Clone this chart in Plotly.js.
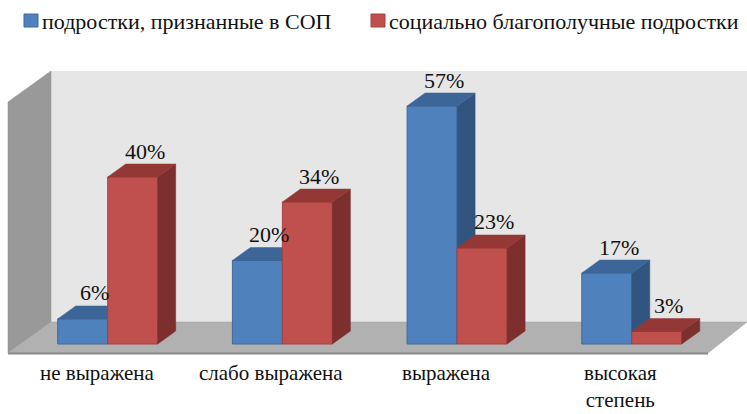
<!DOCTYPE html>
<html>
<head>
<meta charset="utf-8">
<script src="https://cdn.plot.ly/plotly-3.0.1.min.js"></script>
<style>html,body{margin:0;padding:0;background:#fff;}#chart{width:747px;height:414px;}</style>
</head>
<body>
<div id="chart"></div>
<script>
// ---- data ----
const categories = ["не выражена", "слабо выражена", "выражена", "высокая<br>степень"];
const seriesNames = ["подростки, признанные в СОП", "социально благополучные подростки"];
const sopValues = [6, 20, 57, 17];
const wellValues = [40, 34, 23, 3];

// ---- style / geometry constants ----
const FIG_W = 747, FIG_H = 414;
const X0PX = 107.7, XSTEP = 174.7;       // pixel of category 0 group centre, px per category
const Y0PX = 344, YSCALE = 4.175;       // pixel of value 0, px per unit
const W = 50 / XSTEP;                   // bar width (category units)
const DX = 18 / XSTEP, DY = 13 / YSCALE; // 3-D depth offset
const FONT = "'Liberation Serif', 'Times New Roman', serif";
const colors = {
  blue: {front: "#4f81bd", line: "#41699b", top: "#3c6598", side: "#32557f"},
  red:  {front: "#c0504d", line: "#a7423f", top: "#943836", side: "#7c2f2d"}
};
const xRange = [(-X0PX) / XSTEP, (FIG_W - X0PX) / XSTEP];
const yRange = [(Y0PX - FIG_H) / YSCALE, Y0PX / YSCALE];
const px = x => x / FIG_W, py = y => 1 - y / FIG_H;

function faces(vals, off) {
  const sx = [], sy = [], tx = [], ty = [];
  vals.forEach((v, i) => {
    const xl = i + off, xr = xl + W;
    sx.push(xr, xr + DX, xr + DX, xr, xr, null);
    sy.push(0, DY, v + DY, v, 0, null);
    tx.push(xl, xl + DX, xr + DX, xr, xl, null);
    ty.push(v, v + DY, v + DY, v, v, null);
  });
  return {sx, sy, tx, ty};
}

const idx = categories.map((_, i) => i);
const traces = [];
function addSeries(vals, off, c, name, xa, ya) {
  traces.push({type: "bar", x: idx, y: vals, offset: off, width: W, name: name,
    xaxis: xa, yaxis: ya, marker: {color: c.front, line: {color: c.line, width: 1}}, hoverinfo: "skip"});
  const f = faces(vals, off);
  traces.push({type: "scatter", mode: "lines", x: f.sx, y: f.sy, fill: "toself", fillcolor: c.side,
    line: {color: c.side, width: 0.5}, xaxis: xa, yaxis: ya, hoverinfo: "skip", showlegend: false});
  traces.push({type: "scatter", mode: "lines", x: f.tx, y: f.ty, fill: "toself", fillcolor: c.top,
    line: {color: c.top, width: 0.5}, xaxis: xa, yaxis: ya, hoverinfo: "skip", showlegend: false});
}
addSeries(sopValues, -W, colors.blue, seriesNames[0], "x", "y");
addSeries(wellValues, 0, colors.red, seriesNames[1], "x2", "y2");

// ---- annotations ----
const annotations = [];
const LBL_DX = 12 / XSTEP, LBL_DY = 26 / YSCALE;
[[sopValues, -W], [wellValues, 0]].forEach(([vals, off]) => {
  vals.forEach((v, i) => {
    annotations.push({xref: "x", yref: "y", x: i + off + W / 2 + LBL_DX, y: v + LBL_DY,
      text: v + "%", showarrow: false, xanchor: "center", yanchor: "middle",
      font: {family: FONT, size: 22, color: "#111"}});
  });
});
categories.forEach((c, i) => {
  annotations.push({xref: "x", yref: "paper", x: i - 11 / XSTEP, y: py(359),
    text: c, showarrow: false, xanchor: "center", yanchor: "top", align: "center",
    font: {family: FONT, size: 21, color: "#111"}});
});
// legend (custom)
const legendItems = [{sq: 24, tx: 40, c: colors.blue}, {sq: 371, tx: 387, c: colors.red}];
const shapes = [];
legendItems.forEach((it, k) => {
  annotations.push({xref: "paper", yref: "paper", x: px(it.tx), y: py(21), text: seriesNames[k],
    showarrow: false, xanchor: "left", yanchor: "middle", font: {family: FONT, size: 22, color: "#111"}});
  shapes.push({type: "rect", xref: "paper", yref: "paper", x0: px(it.sq), x1: px(it.sq + 14),
    y0: py(27), y1: py(14), fillcolor: it.c.front, line: {color: it.c.line, width: 1}, layer: "above"});
});

// ---- 3-D walls ----
function path(pts) { return "M" + pts.map(p => px(p[0]) + "," + py(p[1])).join(" L") + " Z"; }
shapes.push({type: "rect", xref: "paper", yref: "paper", x0: px(51), x1: px(747), y0: py(322), y1: py(71),
  fillcolor: "#e6e6e6", line: {width: 0}, layer: "below"});
shapes.push({type: "path", xref: "paper", yref: "paper", path: path([[8, 102], [51, 71], [51, 322], [8, 353]]),
  fillcolor: "#999999", line: {color: "#8e8e8e", width: 0.5}, layer: "below"});
shapes.push({type: "path", xref: "paper", yref: "paper", path: path([[8, 353], [51, 322], [747, 322], [708, 353]]),
  fillcolor: "#b1b1b1", line: {color: "#a2a2a2", width: 0.5}, layer: "below"});
shapes.push({type: "line", xref: "paper", yref: "paper", x0: px(8), x1: px(708), y0: py(353.5), y1: py(353.5),
  line: {color: "#8a8a8a", width: 2}, layer: "below"});

const axisBase = {visible: false, fixedrange: true, showgrid: false, zeroline: false};
const layout = {
  width: FIG_W, height: FIG_H, margin: {l: 0, r: 0, t: 0, b: 0, pad: 0},
  paper_bgcolor: "#ffffff", plot_bgcolor: "rgba(0,0,0,0)", showlegend: false, barmode: "overlay",
  font: {family: FONT},
  xaxis: Object.assign({}, axisBase, {range: xRange}),
  yaxis: Object.assign({}, axisBase, {range: yRange}),
  xaxis2: Object.assign({}, axisBase, {range: xRange, overlaying: "x", anchor: "y2"}),
  yaxis2: Object.assign({}, axisBase, {range: yRange, overlaying: "y", anchor: "x2"}),
  annotations: annotations, shapes: shapes
};
Plotly.newPlot("chart", traces, layout, {staticPlot: true, displayModeBar: false});
</script>
</body>
</html>
